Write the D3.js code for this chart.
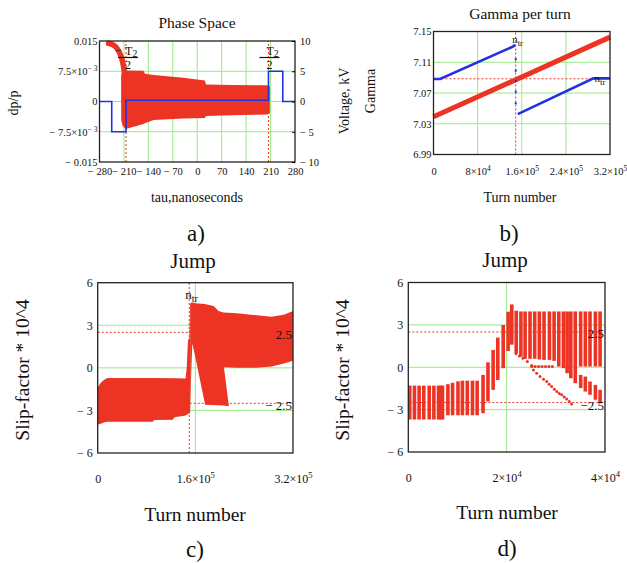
<!DOCTYPE html>
<html lang="en">
<head>
<meta charset="UTF-8">
<title>Phase space, gamma per turn and slip-factor jump</title>
<style>
  body { margin: 0; background: #ffffff; }
  svg { display: block; }
</style>
</head>
<body>
<svg id="chart"></svg>
<script src="https://d3js.org/d3.v7.min.js"></script>
<script>
const width = 627, height = 563;
const FONT = "'Liberation Serif', 'Times New Roman', serif";
const RED = "#ec3324", BLUE = "#2233dd", GRID = "#97ea84", INK = "#111";

// ---- a) Phase space ----
const tauTicks = [-280, -210, -140, -70, 0, 70, 140, 210, 280];
const tauLabels = ["− 280", "− 210", "− 140", "− 70", "0", "70", "140", "210", "280"];
const tauGrid = [-210, -140, -70, 0, 70, 140, 210];
const dpTicks = [0.015, 0.0075, 0, -0.0075, -0.015];
const dpLabels = [["0.015"], ["7.5×10", "− 3"], ["0"], ["− 7.5×10", "− 3"], ["− 0.015"]];
const dpGrid = [0.0075, 0, -0.0075];
const kvTicks = [10, 5, 0, -5, -10];
const kvLabels = ["10", "5", "0", "− 5", "− 10"];
const halfT2 = 204;
const blobTau   = [-218, -214, -205, -154, -150, -125, -40, 22, 25, 100, 199, 208];
const blobUpper = [0.0065, 0.0076, 0.0077, 0.0076, 0.0069, 0.0066, 0.0059, 0.0052, 0.0042, 0.0041, 0.0040, 0.0038];
const blobLower = [-0.0045, -0.0060, -0.0068, -0.0056, -0.0054, -0.0046, -0.0042, -0.0041, -0.0036, -0.0034, -0.0032, -0.0030];
const tailTau = [-254, -236, -224, -216, -211, -208];
const tailDp  = [0.0144, 0.0140, 0.0125, 0.0108, 0.0087, 0.0068];
const voltTau = [-280, -245, -245, -204, -204, 204, 204, 245, 245, 280];
const voltKv  = [0, 0, -5, -5, 0.2, 0.2, 5, 5, 0, 0];

// ---- b) Gamma per turn ----
const turnTicksB = [0, 8e4, 1.6e5, 2.4e5, 3.2e5];
const turnLabelsB = [["0"], ["8×10", "4"], ["1.6×10", "5"], ["2.4×10", "5"], ["3.2×10", "5"]];
const turnGridB = [8e4, 1.6e5, 2.4e5];
const gammaTicks = [7.15, 7.11, 7.07, 7.03, 6.99];
const gammaLabels = ["7.15", "7.11", "7.07", "7.03", "6.99"];
const gammaGrid = [7.11, 7.07, 7.03];
const nTr = 1.49e5, gammaTr = 7.0885;
const gammaTurns = [0, 3.2e5];
const gammaRed = [7.039, 7.1427];
const blueTurnsA = [0, 12e3, 144e3, 148e3];
const blueGammaA = [7.0883, 7.0883, 7.1304, 7.1326];
const blueDropTurns = [149.2e3, 149.2e3, 149.2e3, 149.2e3, 149.2e3];
const blueDropGamma = [7.114, 7.099, 7.0857, 7.0717, 7.0566];
const blueTurnsB = [152.8e3, 290e3, 320e3];
const blueGammaB = [7.0426, 7.089, 7.089];

// ---- c) Jump, full run ----
const turnTicksC = [0, 1.6e5, 3.2e5];
const turnLabelsC = [["0"], ["1.6×10", "5"], ["3.2×10", "5"]];
const slipTicks = [6, 3, 0, -3, -6];
const slipLabels = ["6", "3", "0", "− 3", "− 6"];
const slipGrid = [3, 0, -3];
const slipMarks = [2.5, -2.5];
const nTrC = 1.5e5;
const preTurns = [0, 4e3, 10e3, 16e3, 90e3, 93e3, 123e3, 126e3, 144e3, 146e3, 148e3, 150e3, 151.5e3];
const preUpper = [-1.4, -1.1, -0.85, -0.72, -0.72, -0.72, -0.74, -0.74, -0.75, 0.1, 2.0, 2.0, 4.5];
const preLower = [-4.0, -3.95, -3.85, -3.8, -3.8, -3.68, -3.65, -3.48, -3.35, -3.3, -3.25, -3.2, -3.2];
const postTurns = [151.5e3, 153e3, 155e3, 160e3, 175e3, 190e3, 198e3, 206e3, 228e3, 260e3, 285e3, 305e3, 320e3];
const postUpper = [4.5, 4.6, 4.6, 4.55, 4.5, 4.35, 4.0, 3.9, 3.85, 3.7, 3.6, 3.75, 4.0];
const postLower = [-3.2, -0.7, 1.7, 1.0, 0.6, 0.3, 0.1, 0.05, 0.0, 0.0, 0.1, 0.3, 0.5];
const branchTurns = [154e3, 176e3, 206e3, 215e3];
const branchUpper = [2.0, 1.3, 0.3, -2.7];
const branchLower = [2.0, -2.6, -2.65, -2.7];

// ---- d) Jump, first 4e4 turns ----
const turnTicksD = [0, 2e4, 4e4];
const turnLabelsD = [["0"], ["2×10", "4"], ["4×10", "4"]];
const barTurns = [300, 1250, 2200, 3150, 4250, 5200, 6150, 6550, 6950,
  8050, 9000, 10100, 11000, 12000, 13050, 14000,
  15200, 16200, 17250, 18200, 19300, 20300,
  21050, 21950, 22900, 23750, 24750, 25700, 26650, 27600, 28700, 29650,
  30600, 31550, 32300, 33050, 33950, 35050, 36000, 36950, 38050, 39000];
const barTop = [-1.3, -1.3, -1.3, -1.3, -1.3, -1.3, -1.3, -1.3, -1.3,
  -1.2, -1.1, -1.0, -0.95, -0.95, -0.95, -0.95,
  -0.54, 0.35, 1.22, 2.1, 2.99, 3.93,
  4.45, 4.0, 3.95, 3.95, 3.95, 3.95, 3.95, 3.95, 3.95, 3.95,
  3.95, 3.95, 3.95, 3.95, 3.95, 3.95, 3.95, 3.95, 3.95, 3.95];
const barBottom = [-3.7, -3.7, -3.7, -3.7, -3.7, -3.7, -3.7, -3.7, -3.7,
  -3.4, -3.4, -3.4, -3.4, -3.4, -3.4, -3.4,
  -3.25, -2.42, -1.6, -0.9, -0.07, 1.15,
  1.6, 1.0, 0.75, 0.6, 0.6, 0.6, 0.55, 0.52, 0.52, 0.45,
  0.05, -0.07, -0.42, -0.78, -1.13, 0.05, 0.05, 0.05, 0.05, 0.05];
const lowTurns = [35050, 36000, 36950, 38050, 39000];
const lowTop = [-0.54, -0.66, -1.01, -1.25, -1.6];
const lowBottom = [-1.48, -1.72, -1.95, -2.3, -2.55];
const dotTurns = [21900, 22600, 23300, 24200, 25100, 25450, 26100, 26800, 27500, 28150,
  28650, 29150, 29700, 30200, 30700, 31200, 31700, 32200, 32700, 33200];
const dotSlip = [0.95, 0.8, 0.64, 0.4, 0.12, -0.19, -0.42, -0.66, -0.85, -1.01,
  -1.2, -1.36, -1.55, -1.72, -1.85, -1.95, -2.1, -2.24, -2.42, -2.61];
const rowTurns = [25100, 25800, 26500, 27200, 27900, 28600, 29300];
const rowSlip = [0.05, 0.05, 0.05, 0.05, 0.05, 0.05, 0.05];

const svg = d3.select("#chart")
  .attr("width", width).attr("height", height)
  .attr("viewBox", `0 0 ${width} ${height}`)
  .attr("font-family", FONT);

// helpers
function vLines(g, x, y, vals, color, dash) {
  g.selectAll(null).data(vals).join("line")
    .attr("x1", d => x(d)).attr("x2", d => x(d))
    .attr("y1", y.range()[0]).attr("y2", y.range()[1])
    .attr("stroke", color).attr("stroke-width", 1)
    .attr("stroke-dasharray", dash || null);
}
function hLines(g, x, y, vals, color, dash) {
  g.selectAll(null).data(vals).join("line")
    .attr("x1", x.range()[0]).attr("x2", x.range()[1])
    .attr("y1", d => y(d)).attr("y2", d => y(d))
    .attr("stroke", color).attr("stroke-width", 1)
    .attr("stroke-dasharray", dash || null);
}
function frame(g, x, y) {
  const [x0, x1] = x.range(), [y0, y1] = y.range();
  g.append("rect").attr("x", x0).attr("y", y1)
    .attr("width", x1 - x0).attr("height", y0 - y1)
    .attr("fill", "none").attr("stroke", "#222").attr("stroke-width", 1.3);
}
function tickLabels(g, labels, size) {
  g.attr("font-family", FONT).attr("font-size", size);
  g.select(".domain").remove();
  g.selectAll(".tick text").attr("fill", INK).each(function (d, i) {
    const lab = [].concat(labels[i]);
    const t = d3.select(this).text(lab[0]);
    if (lab[1]) t.append("tspan").attr("dy", "-0.5em").attr("font-size", "0.72em").text(lab[1]);
  });
}
function text(x, y, str, size, anchor) {
  return svg.append("text").attr("x", x).attr("y", y)
    .attr("text-anchor", anchor || "middle").attr("font-size", size)
    .attr("fill", INK).text(str);
}
function vText(x, y, str, size) {
  svg.append("text").attr("transform", `translate(${x},${y}) rotate(-90)`)
    .attr("text-anchor", "middle").attr("dominant-baseline", "central")
    .attr("font-size", size).attr("fill", INK).text(str);
}
function nLabel(x, y, size) {
  text(x, y, "n", size, "start")
    .append("tspan").attr("dy", "0.3em").attr("font-size", "0.8em").text("tr");
}
function halfT(xc, yBar, minus) {
  text(xc - 3, yBar - 3, "T", 12, "start")
    .append("tspan").attr("dy", "0.3em").attr("font-size", "0.8em").text("2");
  svg.append("line").attr("x1", xc - 10).attr("x2", xc + 10)
    .attr("y1", yBar).attr("y2", yBar).attr("stroke", INK).attr("stroke-width", 1.2);
  text(xc, yBar + 11, "2", 12);
  if (minus) text(xc - 10, yBar - 4, "−", 11, "middle");
}
const pairs = (a, b) => d3.zip(a, b);

// ================= a) =================
const xA = d3.scaleLinear().domain([-280, 280]).range([99.5, 295]);
const yA = d3.scaleLinear().domain([-0.015, 0.015]).range([162, 41]);
const vA = d3.scaleLinear().domain([-10, 10]).range([162, 41]);
const gA = svg.append("g");
vLines(gA, xA, yA, tauGrid, GRID);
hLines(gA, xA, yA, dpGrid, GRID);
vLines(gA, xA, yA, [-halfT2, halfT2], RED, "2,2");

gA.append("path")
  .attr("d", d3.area().x(d => xA(d[0])).y0(d => yA(d[2])).y1(d => yA(d[1]))
    (d3.zip(blobTau, blobUpper, blobLower)))
  .attr("fill", RED);
gA.append("path")
  .attr("d", d3.line().curve(d3.curveBasis).x(d => xA(d[0])).y(d => yA(d[1]))(pairs(tailTau, tailDp)))
  .attr("fill", "none").attr("stroke", RED).attr("stroke-width", 5.5).attr("stroke-linecap", "round");
gA.append("path")
  .attr("d", d3.line().x(d => xA(d[0])).y(d => vA(d[1]))(pairs(voltTau, voltKv)))
  .attr("fill", "none").attr("stroke", BLUE).attr("stroke-width", 1.6);
frame(gA, xA, yA);

gA.append("g").attr("transform", `translate(0,${yA.range()[0]})`)
  .call(d3.axisBottom(xA).tickValues(tauTicks).tickSize(0).tickPadding(6))
  .call(g => tickLabels(g, tauLabels, 10.5));
gA.append("g").attr("transform", `translate(${xA.range()[0]},0)`)
  .call(d3.axisLeft(yA).tickValues(dpTicks).tickSize(0).tickPadding(2))
  .call(g => tickLabels(g, dpLabels, 10.5));
gA.append("g").attr("transform", `translate(${xA.range()[1]},0)`)
  .call(d3.axisRight(vA).tickValues(kvTicks).tickSizeInner(-3).tickSizeOuter(0).tickPadding(5))
  .call(g => tickLabels(g, kvLabels, 10.5));

halfT(xA(-halfT2) + 2, 57.5, true);
halfT(xA(halfT2) + 1, 57.5, false);
text(197, 28, "Phase Space", 15.5);
text(197, 202, "tau,nanoseconds", 14);
vText(13, 103, "dp/p", 14);
text(196, 241, "a)", 23);

// ================= b) =================
const xB = d3.scaleLinear().domain([0, 3.2e5]).range([433.5, 610]);
const yB = d3.scaleLinear().domain([6.99, 7.15]).range([154.5, 31.5]);
const gB = svg.append("g");
vLines(gB, xB, yB, turnGridB, GRID);
hLines(gB, xB, yB, gammaGrid, GRID);
vLines(gB, xB, yB, [nTr], RED, "2,2");
hLines(gB, xB, yB, [gammaTr], RED, "2,2");
gB.append("path")
  .attr("d", d3.line().x(d => xB(d[0])).y(d => yB(d[1]))(pairs(gammaTurns, gammaRed)))
  .attr("stroke", RED).attr("stroke-width", 5).attr("fill", "none");
[[blueTurnsA, blueGammaA], [blueTurnsB, blueGammaB]].forEach(([t, v]) => {
  gB.append("path")
    .attr("d", d3.line().x(d => xB(d[0])).y(d => yB(d[1]))(pairs(t, v)))
    .attr("stroke", BLUE).attr("stroke-width", 2.6).attr("fill", "none");
});
gB.selectAll(null).data(pairs(blueDropTurns, blueDropGamma)).join("rect")
  .attr("x", d => xB(d[0]) - 1).attr("y", d => yB(d[1]) - 1)
  .attr("width", 2).attr("height", 2).attr("fill", BLUE);
frame(gB, xB, yB);
gB.append("g").attr("transform", `translate(0,${yB.range()[0]})`)
  .call(d3.axisBottom(xB).tickValues(turnTicksB).tickSize(0).tickPadding(13))
  .call(g => tickLabels(g, turnLabelsB, 10.5));
gB.append("g").attr("transform", `translate(${xB.range()[0]},0)`)
  .call(d3.axisLeft(yB).tickValues(gammaTicks).tickSize(0).tickPadding(2))
  .call(g => tickLabels(g, gammaLabels, 10.5));
nLabel(xB(nTr) - 3.5, 43, 11);
nLabel(xB(2.9e5) + 1, 82, 11);
text(520, 19, "Gamma per turn", 15.5);
text(520, 202, "Turn number", 14);
vText(344, 101, "Voltage, kV", 14);
vText(370, 91, "Gamma", 14);
text(509, 241, "b)", 23);

// ================= c) =================
const xC = d3.scaleLinear().domain([0, 3.2e5]).range([97.7, 293]);
const yC = d3.scaleLinear().domain([-6, 6]).range([453, 282.7]);
const gC = svg.append("g");
vLines(gC, xC, yC, [1.6e5], GRID);
hLines(gC, xC, yC, slipGrid, GRID);
hLines(gC, xC, yC, slipMarks, RED, "2,2");
vLines(gC, xC, yC, [nTrC], RED, "2,2");
const bandC = d3.area().x(d => xC(d[0])).y0(d => yC(d[2])).y1(d => yC(d[1]));
[[preTurns, preUpper, preLower], [postTurns, postUpper, postLower], [branchTurns, branchUpper, branchLower]]
  .forEach(([t, u, l]) => {
    gC.append("path").attr("d", bandC(d3.zip(t, u, l))).attr("fill", RED);
  });
frame(gC, xC, yC);
gC.append("g").attr("transform", `translate(0,${yC.range()[0]})`)
  .call(d3.axisBottom(xC).tickValues(turnTicksC).tickSize(0).tickPadding(21))
  .call(g => tickLabels(g, turnLabelsC, 12));
gC.append("g").attr("transform", `translate(${xC.range()[0]},0)`)
  .call(d3.axisLeft(yC).tickValues(slipTicks).tickSize(0).tickPadding(5))
  .call(g => tickLabels(g, slipLabels, 12));
nLabel(xC(nTrC) - 4, 299, 13);
text(292, 339, "2.5", 13, "end");
text(292, 410, "− 2.5", 13, "end");
text(193, 268, "Jump", 21);
text(195, 521, "Turn number", 19.5);
vText(22, 370, "Slip-factor * 10^4", 19.5);
text(195, 557, "c)", 23);

// ================= d) =================
const xD = d3.scaleLinear().domain([0, 4e4]).range([408.3, 605]);
const yD = d3.scaleLinear().domain([-6, 6]).range([452, 282.5]);
const gD = svg.append("g");
vLines(gD, xD, yD, [2e4], GRID);
hLines(gD, xD, yD, slipGrid, GRID);
hLines(gD, xD, yD, slipMarks, RED, "2,2");
gD.selectAll(null).data(d3.zip(barTurns, barTop, barBottom)).join("line")
  .attr("x1", d => xD(d[0])).attr("x2", d => xD(d[0]))
  .attr("y1", d => yD(d[1])).attr("y2", d => yD(d[2]))
  .attr("stroke", RED).attr("stroke-width", 3.6);
gD.selectAll(null).data(d3.zip(lowTurns, lowTop, lowBottom)).join("line")
  .attr("x1", d => xD(d[0])).attr("x2", d => xD(d[0]))
  .attr("y1", d => yD(d[1])).attr("y2", d => yD(d[2]))
  .attr("stroke", RED).attr("stroke-width", 3.6);
gD.selectAll(null).data(pairs(dotTurns, dotSlip).concat(pairs(rowTurns, rowSlip))).join("circle")
  .attr("cx", d => xD(d[0])).attr("cy", d => yD(d[1])).attr("r", 1.5).attr("fill", RED);
frame(gD, xD, yD);
gD.append("g").attr("transform", `translate(0,${yD.range()[0]})`)
  .call(d3.axisBottom(xD).tickValues(turnTicksD).tickSize(0).tickPadding(21))
  .call(g => tickLabels(g, turnLabelsD, 12));
gD.append("g").attr("transform", `translate(${xD.range()[0]},0)`)
  .call(d3.axisLeft(yD).tickValues(slipTicks).tickSize(0).tickPadding(5))
  .call(g => tickLabels(g, slipLabels, 12));
text(604, 338, "2.5", 13, "end");
text(604, 410, "−2.5", 13, "end");
text(505, 267, "Jump", 21);
text(507, 519, "Turn number", 19.5);
vText(342, 370, "Slip-factor * 10^4", 19.5);
text(507, 556, "d)", 23);
</script>
</body>
</html>
